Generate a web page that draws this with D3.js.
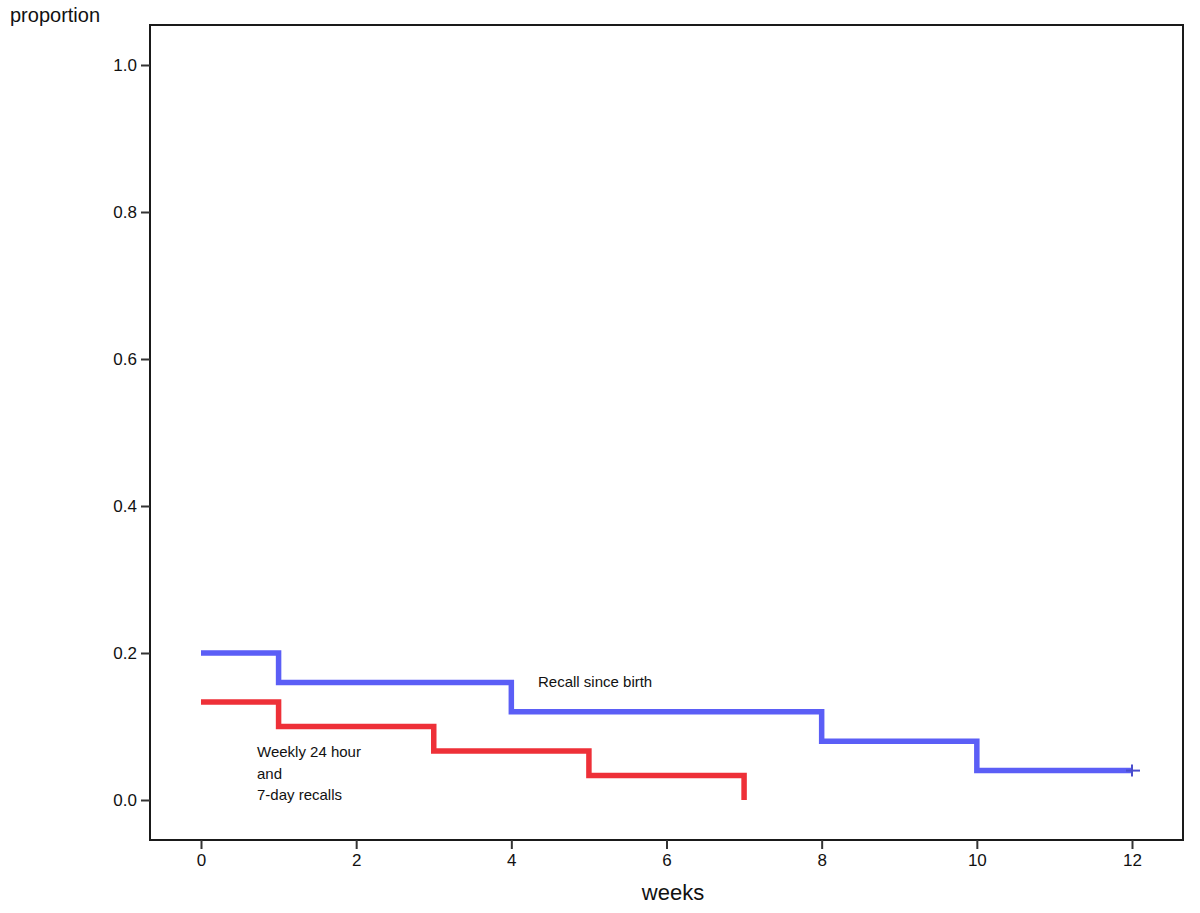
<!DOCTYPE html>
<html>
<head>
<meta charset="utf-8">
<script src="https://cdn.jsdelivr.net/npm/d3@7"></script>
<style>
  body { margin: 0; background: #fff; }
  text { font-family: "Liberation Sans", Arial, sans-serif; fill: #111; }
</style>
</head>
<body>
<div class="chart"></div>
<script>
// ------------------------------------------------------------------
// Data
var weeks_blue = [0, 1, 4, 8, 10, 12];
var surv_blue  = [0.2, 0.16, 0.12, 0.08, 0.04, 0.04];
var weeks_red  = [0, 1, 3, 5, 7, 7];
var surv_red   = [0.1333, 0.1, 0.0667, 0.0333, 0.0333, 0];
var x_ticks = [0, 2, 4, 6, 8, 10, 12];
var y_ticks = [0, 0.2, 0.4, 0.6, 0.8, 1.0];
var censor_blue = [12];

// ------------------------------------------------------------------
var width = 1200, height = 913;
var frame_l = 150, frame_r = 1183, frame_t = 25, frame_b = 840;

var svg = d3.select(".chart").append("svg")
  .attr("width", width)
  .attr("height", height);

var x = d3.scaleLinear().domain([0, 12]).range([201, 1132]);
var y = d3.scaleLinear().domain([0, 1]).range([800, 65]);

// frame
svg.append("rect")
  .attr("x", frame_l).attr("y", frame_t)
  .attr("width", frame_r - frame_l).attr("height", frame_b - frame_t)
  .attr("fill", "none").attr("stroke", "#1a1a1a").attr("stroke-width", 2);

// axes
var yAxis = d3.axisLeft(y).tickValues(y_ticks).tickFormat(d3.format(".1f")).tickSize(9).tickPadding(4);
var gy = svg.append("g").attr("transform", "translate(" + frame_l + ",0)").call(yAxis);
var xAxis = d3.axisBottom(x).tickValues(x_ticks).tickFormat(d3.format("d")).tickSize(9).tickPadding(5);
var gx = svg.append("g").attr("transform", "translate(0," + frame_b + ")").call(xAxis);
[gy, gx].forEach(function(g) {
  g.select(".domain").remove();
  g.selectAll("line").attr("stroke", "#333").attr("stroke-width", 2);
  g.selectAll("text").style("font-size", "17px").attr("fill", "#222")
    .style("font-family", "'Liberation Sans', Arial, sans-serif");
});

// step lines
var line = d3.line()
  .x(function(d) { return x(d[0]); })
  .y(function(d) { return y(d[1]); })
  .curve(d3.curveStepAfter);

function draw_step(ws, vs, color) {
  var pts = ws.map(function(w, i) { return [w, vs[i]]; });
  svg.append("path")
    .datum(pts)
    .attr("d", line)
    .attr("fill", "none")
    .attr("stroke", color)
    .attr("stroke-width", 5.5)
    .attr("stroke-linejoin", "miter")
    .attr("stroke-linecap", "butt");
}
draw_step(weeks_blue, surv_blue, "#5b5ef6");
draw_step(weeks_red, surv_red, "#ee3038");

// censor mark
censor_blue.forEach(function(w) {
  var cx = x(w), cy = y(surv_blue[surv_blue.length - 1]);
  svg.append("line").attr("x1", cx).attr("x2", cx).attr("y1", cy - 6).attr("y2", cy + 6)
    .attr("stroke", "#4a4dcc").attr("stroke-width", 2);
  svg.append("line").attr("x1", cx - 6).attr("x2", cx + 8).attr("y1", cy).attr("y2", cy)
    .attr("stroke", "#4a4dcc").attr("stroke-width", 2);
});

// labels
svg.append("text").attr("x", 10).attr("y", 22).style("font-size", "20px").text("proportion");
svg.append("text").attr("x", 673).attr("y", 900).attr("text-anchor", "middle")
  .style("font-size", "22px").text("weeks");

svg.append("text").attr("x", 538).attr("y", 687).style("font-size", "15px").text("Recall since birth");
var lines_red = ["Weekly 24 hour", "and", "7-day recalls"];
lines_red.forEach(function(s, i) {
  svg.append("text").attr("x", 257).attr("y", 757 + i * 21.5).style("font-size", "15px").text(s);
});
</script>
</body>
</html>
